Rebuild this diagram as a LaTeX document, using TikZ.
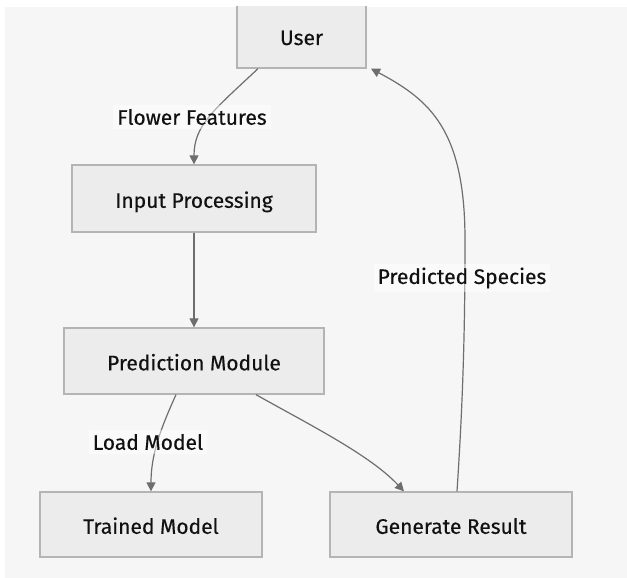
\documentclass[tikz,border=0pt]{standalone}
\usepackage{fontspec}
\setmainfont{Fira Sans}[FakeBold=0.35]
\usetikzlibrary{arrows.meta}
\definecolor{bgc}{HTML}{F6F6F6}
\definecolor{boxfill}{HTML}{ECECEC}
\definecolor{boxline}{HTML}{B4B4B4}
\definecolor{edgec}{HTML}{6E6E6E}
\definecolor{txt}{HTML}{111111}
\begin{document}
\begin{tikzpicture}[x=1pt,y=-1pt,
  lbl/.style={font=\fontsize{21}{23}\selectfont,text=txt},
  box/.style={lbl,draw=boxline,fill=boxfill,line width=1.3pt,inner sep=0pt,text height=20pt,text depth=1.4pt},
  edge/.style={draw=edgec,line width=1.2pt,-{Triangle[length=9pt,width=9pt]}},
  elabel/.style={lbl,fill=white,fill opacity=0.45,text opacity=1,inner sep=4pt}]
\useasboundingbox (0,0) rectangle (627,578);
\fill[white] (0,0) rectangle (627,578);
\fill[bgc] (5,7) rectangle (627,578);
\node[box,minimum width=129pt,minimum height=68pt] (user) at (301.5,34) {};
\node[lbl,anchor=base] (usertext) at (301.5,45) {User};
\fill[white] (230,-2) rectangle (372,6.5);
\node[box,minimum width=244pt,minimum height=67pt] (inp) at (194,198.5) {Input Processing};
\node[box,minimum width=260pt,minimum height=66pt] (pred) at (194,361) {Prediction Module};
\node[box,minimum width=222pt,minimum height=65pt] (trained) at (151,524.5) {Trained Model};
\node[box,minimum width=242pt,minimum height=65pt] (gen) at (451,524.5) {Generate Result};
\draw[edge] ([xshift=-43.5pt]user.south) .. controls (214,110) and (194,125) .. (inp.north);
\draw[edge] (inp.south) -- (pred.north);
\draw[edge] ([xshift=-18pt]pred.south) .. controls (160,430) and (151,455) .. ([xshift=0pt]trained.north);
\draw[edge] ([xshift=62pt]pred.south) .. controls (310,425) and (370,455) .. ([xshift=-47pt]gen.north);
\draw[edge] ([xshift=6pt]gen.north) .. controls (463,400) and (465,330) .. (465,240) .. controls (465,130) and (430,100) .. ([xshift=69.5pt]user.south);
\node[elabel] (l1) at (192,117) {Flower Features};
\node[elabel] (l2) at (148,442) {Load Model};
\node[elabel] (l3) at (462,278) {Predicted Species};
\end{tikzpicture}
\end{document}
